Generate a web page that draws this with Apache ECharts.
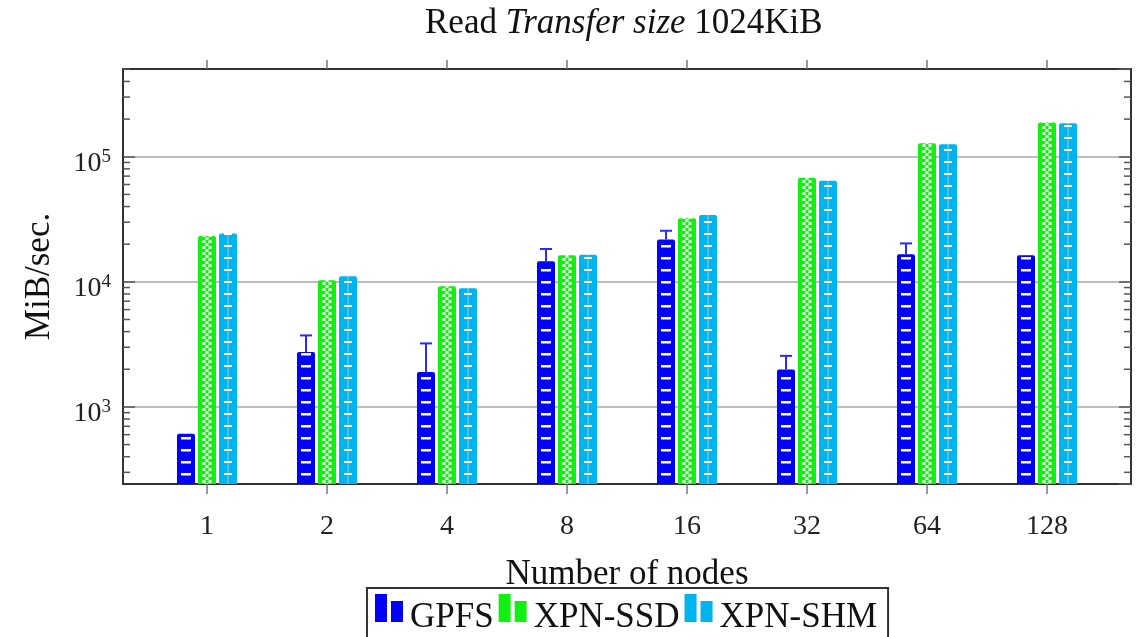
<!DOCTYPE html>
<html><head><meta charset="utf-8">
<script src="https://cdn.jsdelivr.net/npm/echarts@6/dist/echarts.min.js"></script>
<style>html,body{margin:0;padding:0;background:#fff}#c{width:1139px;height:637px}</style>
</head><body><div id="c"></div>
<script>
// ---- data ----
const categories = ['1', '2', '4', '8', '16', '32', '64', '128'];
const seriesNames = ['GPFS', 'XPN-SSD', 'XPN-SHM'];
const gpfs    = [610, 2750, 1900, 14600, 21800, 1990, 16600, 16300];
const xpnSsd  = [23200, 10300, 9240, 16300, 32300, 67900, 128000, 188000];
const xpnShm  = [24400, 11100, 8900, 16500, 34300, 64300, 126000, 185000];
const gpfsErrTop = [null, 3730, 3220, 18300, 25600, 2560, 20300, null];
const yMin = 242, yMax = 503000;
const minorTickValues = [300, 400, 500, 600, 700, 800, 900,
  2000, 3000, 4000, 5000, 6000, 7000, 8000, 9000,
  20000, 30000, 40000, 50000, 60000, 70000, 80000, 90000,
  200000, 300000, 400000, 500000];

// ---- styles ----
const FONT = '"Liberation Serif", "DejaVu Serif", serif';
const solid = ['#0000ff', '#12f012', '#00b4ee'];

function pattern(bg, h, draw) {
  const c = document.createElement('canvas');
  c.width = 120; c.height = h;
  const g = c.getContext('2d');
  g.fillStyle = bg; g.fillRect(0, 0, 120, h);
  g.fillStyle = '#fff'; g.strokeStyle = '#fff';
  draw(g);
  return { image: c, repeat: 'repeat' };
}
const patBlue = pattern(solid[0], 12, g => { g.fillRect(61, 5, 10, 2.5); });
const patGreen = pattern(solid[1], 6, g => {
  g.globalAlpha = 0.9;
  g.fillRect(82.5, 0, 3, 3); g.fillRect(88.5, 0, 3, 3);
  g.fillRect(85.5, 3, 3, 3);
});
const patCyan = pattern(solid[2], 12, g => {
  g.fillRect(104, 5, 8, 2);
  g.globalAlpha = 0.4; g.fillRect(107.5, 0, 1.2, 12);
});
const pats = [patBlue, patGreen, patCyan];
const values = [gpfs, xpnSsd, xpnShm];

const legendIcon = 'path://M0,0h12v28h-12z M16,7h12v21h-12z';

const chart = echarts.init(document.getElementById('c'), null, { renderer: 'canvas' });

const frameY = (pos, withLabels) => ({
  type: 'log', gridIndex: 0, min: yMin, max: yMax, position: pos,
  axisLine: { show: true, onZero: false, lineStyle: { color: '#333', width: 2 } },
  axisTick: { show: true, inside: true, length: 12, lineStyle: { color: '#555', width: 1.5 } },
  axisLabel: withLabels ? {
    show: true, margin: 12, showMinLabel: false, showMaxLabel: false,
    formatter: v => {
      const l = Math.log10(v), e = Math.round(l);
      if (Math.abs(l - e) > 1e-6) return '';
      return '{b|10}{s|' + e + '}';
    },
    rich: {
      b: { fontSize: 28, fontFamily: FONT, color: '#222', padding: [13, 0, 0, 0] },
      s: { fontSize: 19, fontFamily: FONT, color: '#222' }
    }
  } : { show: false },
  splitLine: withLabels ? { show: true, showMinLine: false, showMaxLine: false, lineStyle: { color: '#bdbdbd', width: 2 } } : { show: false },
  name: withLabels ? 'MiB/sec.' : '',
  nameLocation: 'middle', nameGap: 66,
  nameTextStyle: { fontSize: 35, fontFamily: FONT, color: '#111' }
});

const option = {
  animation: false,
  backgroundColor: '#fff',
  title: {
    left: 425, top: 6, padding: 0,
    text: '{a|Read }{i|Transfer size}{a| 1024KiB}',
    textStyle: {
      fontWeight: 'normal',
      rich: {
        a: { fontSize: 35, fontFamily: FONT, fontWeight: 'normal', color: '#111' },
        i: { fontSize: 35, fontFamily: FONT, fontWeight: 'normal', fontStyle: 'italic', color: '#111' }
      }
    }
  },
  legend: {
    left: 367, top: 588,
    orient: 'horizontal',
    padding: [6, 11, 10, 8],
    itemGap: 5, itemWidth: 28, itemHeight: 28,
    borderColor: '#333', borderWidth: 2,
    formatter: name => '{t|' + name + '}',
    textStyle: {
      fontSize: 35, fontFamily: FONT, color: '#111',
      rich: { t: { fontSize: 35, fontFamily: FONT, color: '#111', padding: [20, 0, 0, 2] } }
    },
    data: seriesNames.map((n, i) => ({ name: n, icon: legendIcon, itemStyle: { color: solid[i] } }))
  },
  grid: [
    { left: 123, right: 8, top: 69, bottom: 153 },
    { left: 147, right: 32, top: 69, bottom: 153 }
  ],
  xAxis: [
    { type: 'value', gridIndex: 0, min: 0, max: 1, position: 'bottom',
      axisLine: { show: true, onZero: false, lineStyle: { color: '#333', width: 2 } },
      axisTick: { show: false }, axisLabel: { show: false }, splitLine: { show: false },
      name: 'Number of nodes', nameLocation: 'middle', nameGap: 73,
      nameTextStyle: { fontSize: 35, fontFamily: FONT, color: '#111' } },
    { type: 'value', gridIndex: 0, min: 0, max: 1, position: 'top',
      axisLine: { show: true, onZero: false, lineStyle: { color: '#333', width: 2 } },
      axisTick: { show: false }, axisLabel: { show: false }, splitLine: { show: false } },
    { type: 'category', gridIndex: 1, data: categories, position: 'bottom',
      axisLine: { show: false, onZero: false },
      axisTick: { show: true, alignWithLabel: true, length: 10, lineStyle: { color: '#777', width: 1.5 } },
      axisLabel: { show: true, margin: 29, fontSize: 28, fontFamily: FONT, color: '#222' },
      splitLine: { show: false } },
    { type: 'category', gridIndex: 1, data: categories, position: 'top',
      axisLine: { show: false, onZero: false },
      axisTick: { show: true, alignWithLabel: true, length: 9, lineStyle: { color: '#777', width: 1.5 } },
      axisLabel: { show: false }, splitLine: { show: false } }
  ],
  yAxis: [
    frameY('left', true),
    frameY('right', false),
    { type: 'log', gridIndex: 1, min: yMin, max: yMax, show: false,
      axisLine: { onZero: false }, splitLine: { show: false } }
  ],
  series: [
    ...seriesNames.map((n, i) => ({
      name: n, type: 'bar', xAxisIndex: 2, yAxisIndex: 2,
      data: values[i], barWidth: 18, barGap: '16.7%', clip: true,
      itemStyle: { color: pats[i], borderRadius: [2, 2, 0, 0] }
    })),
    {
      name: 'GPFS-err', type: 'custom', xAxisIndex: 2, yAxisIndex: 2,
      encode: { x: 0, y: 1 },
      data: gpfsErrTop.map((h, i) => h == null ? null : [i, gpfs[i], h]).filter(Boolean),
      renderItem: (params, api) => {
        const p0 = api.coord([api.value(0), api.value(1)]);
        const p1 = api.coord([api.value(0), api.value(2)]);
        const x = p0[0] - 21;
        const st = { stroke: '#2a2aff', lineWidth: 2 };
        return { type: 'group', children: [
          { type: 'line', shape: { x1: x, y1: p0[1], x2: x, y2: p1[1] }, style: st },
          { type: 'line', shape: { x1: x - 6, y1: p1[1], x2: x + 6, y2: p1[1] }, style: st }
        ] };
      },
      z: 5
    },
    {
      name: 'minor-ticks', type: 'custom', xAxisIndex: 0, yAxisIndex: 0,
      encode: { x: 0, y: 1 },
      data: minorTickValues.map(v => [0, v]),
      renderItem: (params, api) => {
        const p = api.coord([0, api.value(1)]);
        const q = api.coord([1, api.value(1)]);
        const st = { stroke: '#555', lineWidth: 1.5 };
        return { type: 'group', children: [
          { type: 'line', shape: { x1: p[0], y1: p[1], x2: p[0] + 7, y2: p[1] }, style: st },
          { type: 'line', shape: { x1: q[0] - 7, y1: q[1], x2: q[0], y2: q[1] }, style: st }
        ] };
      },
      z: 4
    }
  ]
};
chart.setOption(option);
</script>
</body></html>
